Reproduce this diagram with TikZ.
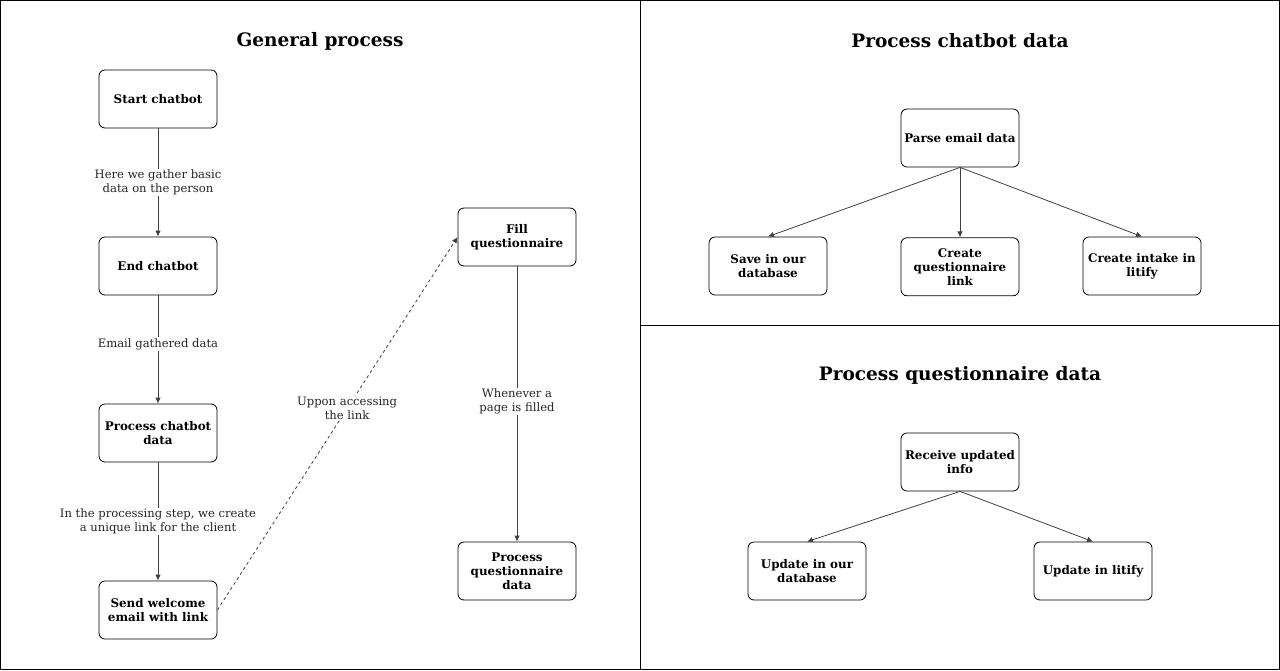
\documentclass[tikz,border=0pt]{standalone}
\usepackage{fontspec}
\setmainfont{DejaVu Serif}
\usetikzlibrary{positioning, arrows.meta}

\begin{document}
\begin{tikzpicture}[x=1pt, y=-1pt]
  \newcommand\stepboxwidth{118pt}
  \newcommand\stepboxheight{58pt}

  \tikzset{stepbox/.style={draw, rounded corners=6pt, line width=0.8pt, minimum width=\stepboxwidth, minimum height=\stepboxheight, align=center, font=\fontsize{11.9}{14}\selectfont\bfseries}}
  \tikzset{title/.style={font=\fontsize{18.5}{22}\selectfont\bfseries}}
  \tikzset{edgelabel/.style={fill=white, align=center, inner sep=1pt, font=\fontsize{11.6}{14}\selectfont, text=black!85}}
  \tikzset{flow/.style={draw=black!75, line width=0.8pt, -{Latex[length=6pt, width=5.5pt]}}}

  \useasboundingbox (0, 0) rectangle (1280, 670);
  \draw[line width=1pt] (0.5, 0.5) rectangle (1279.5, 669.5);
  \draw[line width=1pt] (640, 0) -- (640, 670);
  \draw[line width=1pt] (640, 325) -- (1280, 325);

  % general process
  \node[title] at (320, 41) (t1) {General process};
  \node[stepbox] at (158, 99) (gp1) {Start chatbot};
  \node[stepbox] at (158, 266) (gp2) {End chatbot};
  \node[stepbox] at (158, 433) (gp3) {Process chatbot\\data};
  \node[stepbox] at (158, 610) (gp4) {Send welcome\\email with link};
  \node[stepbox] at (517, 237) (gp5) {Fill\\questionnaire};
  \node[stepbox] at (517, 571) (gp6) {Process\\questionnaire\\data};

  \draw[flow] (gp1) -- node[edgelabel] {Here we gather basic\\data on the person} (gp2);
  \draw[flow] (gp2) -- node[edgelabel, pos=0.45] {Email gathered data} (gp3);
  \draw[flow] (gp3) -- node[edgelabel] {In the processing step, we create\\a unique link for the client} (gp4);
  \draw[flow, dashed] (gp4.east) -- node[edgelabel, pos=0.54] {Uppon accessing\\the link} (gp5.west);
  \draw[flow] (gp5) -- node[edgelabel, pos=0.49] {Whenever a\\page is filled} (gp6);

  % process chatbot data
  \node[title] at (960, 41) (t2) {Process chatbot data};
  \node[stepbox] at (960, 138) (pc1) {Parse email data};
  \node[stepbox] at (768, 266) (pc2) {Save in our\\database};
  \node[stepbox, below=70pt of pc1] (pc3) {Create\\questionnaire\\link};
  \node[stepbox] at (1142, 266) (pc4) {Create intake in\\litify};

  \draw[flow] (pc1.south) -- (pc2.north);
  \draw[flow] (pc1.south) -- (pc3.north);
  \draw[flow] (pc1.south) -- (pc4.north);

  % process questionnaire data
  \node[title] at (960, 375) (t3) {Process questionnaire data};
  \node[stepbox] at (960, 462) (pq1) {Receive updated\\info};
  \node[stepbox] at (807, 571) (pq2) {Update in our\\database};
  \node[stepbox] at (1093, 571) (pq3) {Update in litify};

  \draw[flow] (pq1.south) -- (pq2.north);
  \draw[flow] (pq1.south) -- (pq3.north);
\end{tikzpicture}
\end{document}
